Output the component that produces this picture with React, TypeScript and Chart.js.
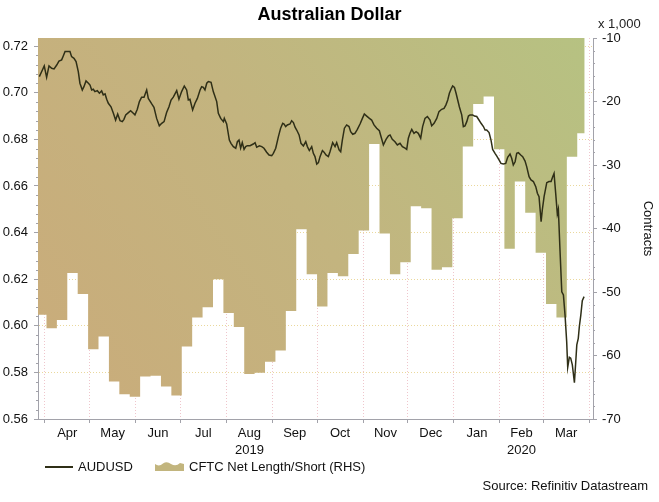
import React, { useEffect, useRef } from 'react';
import { Chart, registerables } from 'chart.js';

Chart.register(...registerables);

const CHART_TITLE = 'Australian Dollar';
const LINE_LABEL = 'AUDUSD';
const AREA_LABEL = 'CFTC Net Length/Short (RHS)';
const SOURCE_TEXT = 'Source: Refinitiv Datastream';
const RIGHT_TITLE = 'Contracts';
const RIGHT_UNIT = 'x 1,000';

// AUDUSD daily close; x = days since 2019-04-01
const BASE_DATE = '2019-04-01';
const audusdDay = [
  -3.8, -2.2, -0.5, 1.1, 2.7, 4.5, 6.1, 7.9, 9.4, 11.2, 12.3, 13.5, 15.3, 16.8, 17.9, 19.5, 20.9, 22.4, 23.5, 25.1,
  26.2, 27.6, 29.2, 30.3, 31.4, 32.5, 33.6, 35.2, 36.6, 38.1, 39.2, 40.4, 41.5, 42.6, 44.4, 46.0, 47.5, 48.9, 50.5, 52.0,
  53.1, 54.3, 56.1, 57.6, 59.4, 60.5, 62.1, 63.5, 65.0, 66.6, 68.4, 69.5, 71.8, 73.3, 75.1, 76.9, 78.5, 80.1, 81.8, 83.4,
  84.8, 86.3, 88.6, 90.1, 91.9, 93.7, 95.3, 96.4, 97.5, 99.3, 100.9, 102.5, 104.3, 105.4, 106.5, 107.6, 108.8, 109.9, 111.7, 113.2,
  115.5, 116.6, 118.2, 120.0, 120.6, 122.2, 124.0, 125.1, 126.7, 128.3, 129.4, 130.5, 131.6, 132.7, 133.9, 135.0, 136.1, 137.9, 140.1, 141.3,
  142.4, 144.2, 145.8, 147.3, 149.1, 150.7, 152.5, 153.6, 155.2, 157.0, 158.5, 159.9, 160.8, 161.9, 163.0, 164.8, 165.9, 167.1, 168.2, 169.3,
  170.9, 172.2, 173.8, 175.4, 176.5, 177.8, 179.4, 180.5, 181.6, 182.8, 183.9, 185.0, 186.6, 187.7, 189.0, 190.6, 191.7, 193.5, 195.1, 196.2,
  197.8, 198.9, 200.0, 201.4, 202.9, 204.5, 205.6, 207.0, 208.5, 210.1, 211.9, 213.5, 214.8, 216.4, 218.2, 219.7, 221.3, 223.1, 224.9, 226.0,
  227.6, 229.4, 231.0, 232.1, 233.6, 235.4, 237.0, 238.8, 240.4, 242.2, 243.3, 244.4, 245.5, 246.7, 248.2, 249.6, 251.1, 252.7, 254.0, 255.6,
  257.2, 259.0, 260.1, 261.7, 263.5, 265.0, 266.8, 268.4, 269.7, 270.9, 272.0, 273.1, 274.2, 275.4, 276.5, 277.6, 278.7, 280.3, 281.4, 282.5,
  283.7, 284.8, 285.9, 287.7, 288.8, 290.4, 291.9, 293.3, 294.9, 296.0, 297.1, 298.7, 300.0, 301.1, 302.7, 303.8, 305.4, 306.7, 308.3, 309.9,
  311.2, 312.8, 313.9, 315.0, 316.2, 317.3, 318.4, 320.0, 321.3, 322.9, 324.0, 325.6, 326.9, 328.5, 330.1, 331.2, 332.3, 333.7, 334.5, 335.7,
  337.5, 339.0, 340.4, 341.5, 342.4, 343.5, 344.6, 345.3, 346.4, 347.6, 348.7, 349.8, 350.9, 351.6, 352.7, 353.6, 354.7, 356.1, 357.0, 357.7,
  358.7, 359.4, 360.4, 361.4, 362.6,
];
const audusdRate = [
  0.7069, 0.7091, 0.7115, 0.7066, 0.7115, 0.7105, 0.7102, 0.7119, 0.7136, 0.7141, 0.7158, 0.7177, 0.7177, 0.7177, 0.7155, 0.7148, 0.7134, 0.7091, 0.7041, 0.7012,
  0.7026, 0.7051, 0.7041, 0.7033, 0.7012, 0.7015, 0.7005, 0.7009, 0.6998, 0.7008, 0.6991, 0.6995, 0.6972, 0.6955, 0.6940, 0.6912, 0.6883, 0.6909, 0.6880, 0.6876,
  0.6886, 0.6905, 0.6915, 0.6923, 0.6912, 0.6905, 0.6929, 0.6962, 0.6981, 0.6981, 0.7012, 0.6976, 0.6952, 0.6938, 0.6890, 0.6858, 0.6869, 0.6876, 0.6915, 0.6940,
  0.6969, 0.6981, 0.7009, 0.6972, 0.7005, 0.7029, 0.7012, 0.6969, 0.6972, 0.6926, 0.6955, 0.6976, 0.7012, 0.7026, 0.7023, 0.7012, 0.7041, 0.7048, 0.7045, 0.7005,
  0.6962, 0.6912, 0.6890, 0.6876, 0.6890, 0.6866, 0.6797, 0.6783, 0.6769, 0.6762, 0.6790, 0.6797, 0.6762, 0.6786, 0.6757, 0.6769, 0.6773, 0.6773, 0.6780, 0.6786,
  0.6766, 0.6772, 0.6769, 0.6762, 0.6745, 0.6733, 0.6730, 0.6740, 0.6762, 0.6812, 0.6848, 0.6869, 0.6866, 0.6855, 0.6862, 0.6866, 0.6880, 0.6872, 0.6852, 0.6840,
  0.6819, 0.6783, 0.6772, 0.6790, 0.6769, 0.6752, 0.6769, 0.6740, 0.6726, 0.6694, 0.6700, 0.6726, 0.6752, 0.6745, 0.6733, 0.6726, 0.6747, 0.6786, 0.6769, 0.6786,
  0.6755, 0.6747, 0.6797, 0.6848, 0.6862, 0.6855, 0.6833, 0.6822, 0.6826, 0.6843, 0.6866, 0.6890, 0.6909, 0.6900, 0.6890, 0.6883, 0.6862, 0.6848, 0.6837, 0.6812,
  0.6776, 0.6800, 0.6815, 0.6819, 0.6800, 0.6790, 0.6776, 0.6783, 0.6769, 0.6762, 0.6757, 0.6805, 0.6826, 0.6843, 0.6826, 0.6833, 0.6826, 0.6805, 0.6855, 0.6890,
  0.6898, 0.6883, 0.6858, 0.6869, 0.6890, 0.6919, 0.6929, 0.6933, 0.6948, 0.6969, 0.6998, 0.7015, 0.7029, 0.7023, 0.6998, 0.6969, 0.6940, 0.6905, 0.6855, 0.6858,
  0.6876, 0.6900, 0.6905, 0.6905, 0.6900, 0.6898, 0.6883, 0.6869, 0.6855, 0.6840, 0.6840, 0.6829, 0.6797, 0.6757, 0.6740, 0.6729, 0.6712, 0.6697, 0.6694, 0.6697,
  0.6723, 0.6737, 0.6719, 0.6690, 0.6704, 0.6740, 0.6743, 0.6733, 0.6726, 0.6707, 0.6683, 0.6640, 0.6626, 0.6619, 0.6597, 0.6569, 0.6554, 0.6447, 0.6497, 0.6554,
  0.6614, 0.6619, 0.6619, 0.6640, 0.6654, 0.6569, 0.6480, 0.6500, 0.6325, 0.6146, 0.6132, 0.6046, 0.5932, 0.5822, 0.5865, 0.5861, 0.5832, 0.5756, 0.5846, 0.5918,
  0.5946, 0.5996, 0.6046, 0.6108, 0.6125,
];

// CFTC net position, thousands of contracts, weekly (Tuesday report dates)
const cftcWeek = [
  '2019-03-26', '2019-04-02', '2019-04-09', '2019-04-16', '2019-04-23', '2019-04-30', '2019-05-07', '2019-05-14', '2019-05-21', '2019-05-28',
  '2019-06-04', '2019-06-11', '2019-06-18', '2019-06-25', '2019-07-02', '2019-07-09', '2019-07-16', '2019-07-23', '2019-07-30', '2019-08-06',
  '2019-08-13', '2019-08-20', '2019-08-27', '2019-09-03', '2019-09-10', '2019-09-17', '2019-09-24', '2019-10-01', '2019-10-08', '2019-10-15',
  '2019-10-22', '2019-10-29', '2019-11-05', '2019-11-12', '2019-11-19', '2019-11-26', '2019-12-03', '2019-12-10', '2019-12-17', '2019-12-24',
  '2019-12-31', '2020-01-07', '2020-01-14', '2020-01-21', '2020-01-28', '2020-02-04', '2020-02-11', '2020-02-18', '2020-02-25', '2020-03-03',
  '2020-03-10', '2020-03-17', '2020-03-24',
];
const cftcNet = [
  -53.6, -55.7, -54.4, -47.0, -50.3, -59.0, -57.0, -64.1, -66.1, -66.5,
  -63.3, -63.2, -64.9, -66.3, -58.6, -54.0, -52.4, -48.0, -53.3, -55.5,
  -62.9, -62.7, -61.0, -59.2, -53.0, -40.1, -47.2, -52.3, -47.0, -47.5,
  -44.0, -40.3, -26.7, -40.8, -47.2, -45.3, -36.5, -36.8, -46.5, -46.1,
  -38.4, -27.1, -20.4, -19.2, -27.5, -43.2, -32.6, -37.5, -43.8, -51.9,
  -54.0, -28.7, -25.0,
];
const cftcLastPeriodEnd = '2020-03-29';

const monthStart = [
  '2019-04-01', '2019-05-01', '2019-06-01', '2019-07-01', '2019-08-01', '2019-09-01', '2019-10-01',
  '2019-11-01', '2019-12-01', '2020-01-01', '2020-02-01', '2020-03-01', '2020-04-01',
];
const monthLabel = ['Apr', 'May', 'Jun', 'Jul', 'Aug', 'Sep', 'Oct', 'Nov', 'Dec', 'Jan', 'Feb', 'Mar'];
const monthYear = ['', '', '', '', '2019', '', '', '', '', '', '2020', ''];

const leftTicks = [0.56, 0.58, 0.6, 0.62, 0.64, 0.66, 0.68, 0.7, 0.72];
const rightTicks = [-70, -60, -50, -40, -30, -20, -10];

const X_MIN = -4.7;
const X_MAX = 368.6;
const LEFT_MIN = 0.56;
const LEFT_MAX = 0.7235;
const RIGHT_MIN = -70;
const RIGHT_MAX = -10;

const FONT = '"Liberation Sans", Arial, Helvetica, sans-serif';
const AXIS_COLOR = '#a2a2aa';
const LINE_COLOR = '#2f2f17';
const VGRID = '#efc6cc';
const HGRID = '#ead89c';
const AREA_FLAT = '#c2b57e';

const dayOf = (iso: string) => (Date.parse(iso) - Date.parse(BASE_DATE)) / 86400000;

export default function App() {
  const ref = useRef<HTMLCanvasElement | null>(null);

  useEffect(() => {
    const canvas = ref.current;
    if (!canvas) return;

    const boundaries = monthStart.map(dayOf);
    const boundarySet = new Set(boundaries);
    const labelAt = new Map<number, string | string[]>();
    const xTickValues: number[] = [...boundaries];
    for (let i = 0; i < monthLabel.length; i++) {
      const mid = (boundaries[i] + boundaries[i + 1]) / 2;
      xTickValues.push(mid);
      labelAt.set(mid, monthYear[i] ? [monthLabel[i], monthYear[i]] : monthLabel[i]);
    }
    xTickValues.sort((a, b) => a - b);

    const lineData = audusdDay.map((d, i) => ({ x: d, y: audusdRate[i] }));
    const areaData = cftcWeek.map((w, i) => ({ x: dayOf(w), y: cftcNet[i] }));
    areaData.push({ x: dayOf(cftcLastPeriodEnd), y: cftcNet[cftcNet.length - 1] });

    const overlay = {
      id: 'overlay',
      afterDraw(chart: any) {
        const { ctx, scales, chartArea } = chart;
        const yl = scales.y;
        const yr = scales.y1;
        ctx.save();
        ctx.strokeStyle = AXIS_COLOR;
        ctx.lineWidth = 1;
        ctx.beginPath();
        for (let i = 1; i < leftTicks.length; i++) {
          for (let k = 1; k < 5; k++) {
            const v = leftTicks[i - 1] + ((leftTicks[i] - leftTicks[i - 1]) * k) / 5;
            const py = Math.round(yl.getPixelForValue(v)) + 0.5;
            ctx.moveTo(yl.right - 2, py);
            ctx.lineTo(yl.right, py);
          }
        }
        for (let i = 1; i < rightTicks.length; i++) {
          for (let k = 1; k < 5; k++) {
            const v = rightTicks[i - 1] + ((rightTicks[i] - rightTicks[i - 1]) * k) / 5;
            const py = Math.round(yr.getPixelForValue(v)) + 0.5;
            ctx.moveTo(yr.left, py);
            ctx.lineTo(yr.left + 2, py);
          }
        }
        ctx.stroke();

        ctx.font = `13px ${FONT}`;
        ctx.textBaseline = 'middle';
        ctx.textAlign = 'left';
        ctx.fillStyle = '#222';
        ctx.fillText(RIGHT_UNIT, yr.left + 5, chartArea.top - 14);

        // legend
        const ly = chartArea.bottom + 48;
        ctx.strokeStyle = LINE_COLOR;
        ctx.lineWidth = 2;
        ctx.beginPath();
        ctx.moveTo(45, ly);
        ctx.lineTo(73, ly);
        ctx.stroke();
        ctx.fillStyle = '#111';
        ctx.fillText(LINE_LABEL, 78, ly);

        const x0 = 155;
        const yb = ly + 4;
        ctx.fillStyle = AREA_FLAT;
        ctx.beginPath();
        ctx.moveTo(x0, yb);
        ctx.lineTo(x0, yb - 7);
        ctx.quadraticCurveTo(x0 + 4, yb - 4, x0 + 8, yb - 7.5);
        ctx.quadraticCurveTo(x0 + 12, yb - 10, x0 + 16, yb - 7);
        ctx.quadraticCurveTo(x0 + 21, yb - 4, x0 + 25, yb - 8);
        ctx.lineTo(x0 + 29, yb - 7);
        ctx.lineTo(x0 + 29, yb);
        ctx.closePath();
        ctx.fill();
        ctx.fillStyle = '#111';
        ctx.fillText(AREA_LABEL, 189, ly);

        ctx.textAlign = 'right';
        ctx.fillText(SOURCE_TEXT, chart.width - 11, chart.height - 15.3);
        ctx.restore();
      },
    };

    const chart = new Chart(canvas, {
      type: 'line',
      data: {
        datasets: [
          {
            label: LINE_LABEL,
            data: lineData,
            yAxisID: 'y',
            borderColor: LINE_COLOR,
            borderWidth: 1.5,
            pointRadius: 0,
            tension: 0,
            fill: false,
          },
          {
            label: AREA_LABEL,
            data: areaData,
            yAxisID: 'y1',
            stepped: 'before',
            borderWidth: 0,
            borderColor: 'rgba(0,0,0,0)',
            pointRadius: 0,
            fill: 'end',
            backgroundColor: (c: any) => {
              const area = c.chart.chartArea;
              if (!area) return AREA_FLAT;
              const g = c.chart.ctx.createLinearGradient(area.left, area.bottom, area.right, area.top);
              g.addColorStop(0, '#caab7a');
              g.addColorStop(0.5, '#c3b47f');
              g.addColorStop(1, '#b6c282');
              return g;
            },
          },
        ],
      },
      options: {
        responsive: false,
        animation: false,
        layout: { padding: { left: 0, right: 0, top: 0, bottom: 43 } },
        plugins: {
          legend: { display: false },
          tooltip: { enabled: false },
          title: {
            display: true,
            text: CHART_TITLE,
            color: '#000',
            font: { family: FONT, size: 18, weight: 'bold' },
            padding: { top: 4, bottom: 12.4 },
          },
        },
        scales: {
          x: {
            type: 'linear',
            min: X_MIN,
            max: X_MAX,
            afterBuildTicks: (scale: any) => {
              scale.ticks = xTickValues.map((v) => ({ value: v }));
            },
            afterFit: (scale: any) => {
              scale.height = 40;
            },
            ticks: {
              autoSkip: false,
              maxRotation: 0,
              minRotation: 0,
              padding: 2,
              color: '#111',
              font: { family: FONT, size: 13, lineHeight: 1.3 },
              callback: (v: any) => (labelAt.has(v) ? (labelAt.get(v) as any) : ''),
            },
            grid: {
              drawOnChartArea: true,
              tickLength: 4,
              lineWidth: 1,
              color: (c: any) => (c.tick && boundarySet.has(c.tick.value) ? VGRID : 'rgba(0,0,0,0)'),
              tickColor: (c: any) => (c.tick && boundarySet.has(c.tick.value) ? AXIS_COLOR : 'rgba(0,0,0,0)'),
              tickBorderDash: [],
            },
            border: { display: true, color: AXIS_COLOR, width: 1, dash: [1, 2] },
          },
          y: {
            type: 'linear',
            position: 'left',
            min: LEFT_MIN,
            max: LEFT_MAX,
            afterBuildTicks: (scale: any) => {
              scale.ticks = leftTicks.map((v) => ({ value: v }));
            },
            afterFit: (scale: any) => {
              scale.width = 38;
            },
            ticks: {
              padding: 6,
              color: '#111',
              font: { family: FONT, size: 13 },
              callback: (v: any) => Number(v).toFixed(2),
            },
            grid: {
              drawOnChartArea: true,
              tickLength: 4,
              color: HGRID,
              tickColor: AXIS_COLOR,
              tickBorderDash: [],
            },
            border: { display: true, color: AXIS_COLOR, width: 1, dash: [1, 2] },
          },
          y1: {
            type: 'linear',
            position: 'right',
            min: RIGHT_MIN,
            max: RIGHT_MAX,
            afterBuildTicks: (scale: any) => {
              scale.ticks = rightTicks.map((v) => ({ value: v }));
            },
            afterFit: (scale: any) => {
              scale.width = 66;
            },
            ticks: {
              padding: 5,
              color: '#111',
              font: { family: FONT, size: 13 },
              callback: (v: any) => String(v),
            },
            grid: {
              drawOnChartArea: false,
              tickLength: 4,
              tickColor: AXIS_COLOR,
              tickBorderDash: [],
            },
            border: { display: true, color: AXIS_COLOR, width: 1 },
            title: {
              display: true,
              text: RIGHT_TITLE,
              color: '#111',
              font: { family: FONT, size: 13 },
              padding: { top: 4, bottom: 0 },
            },
          },
        },
      },
      plugins: [overlay],
    } as any);

    return () => chart.destroy();
  }, []);

  return (
    <div style={{ position: 'fixed', left: 0, top: 0, width: 659, height: 502, background: '#fff' }}>
      <canvas ref={ref} width={659} height={502} style={{ display: 'block' }} />
    </div>
  );
}
